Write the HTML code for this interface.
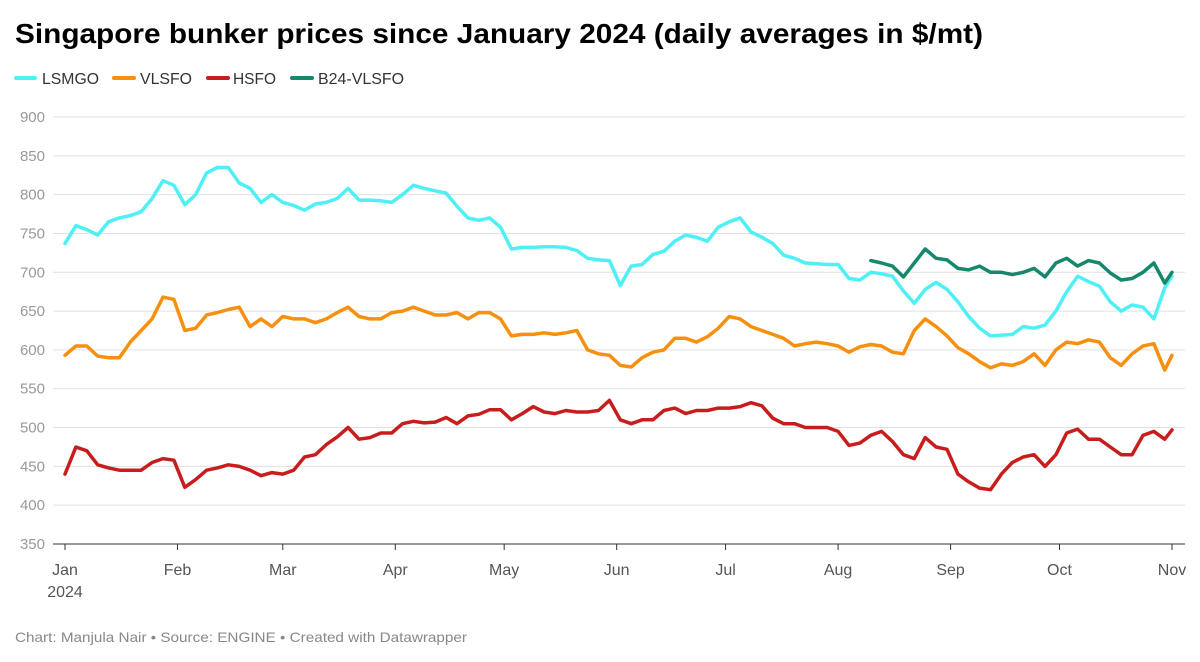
<!DOCTYPE html>
<html><head><meta charset="utf-8"><style>
html,body{margin:0;padding:0;background:#fff;}
svg{display:block;font-family:"Liberation Sans",Arial,sans-serif;}
</style></head><body>
<svg id="chart" width="1200" height="662" viewBox="0 0 1200 662">
<text x="15" y="43" font-size="28" font-weight="bold" fill="#000" textLength="968" lengthAdjust="spacingAndGlyphs">Singapore bunker prices since January 2024 (daily averages in $/mt)</text>
<g font-size="16" fill="#333">
<g><line x1="16" y1="78" x2="35" y2="78" stroke="#4ef0f5" stroke-width="4" stroke-linecap="round"/><text x="42" y="84" textLength="57" lengthAdjust="spacingAndGlyphs">LSMGO</text></g>
<g><line x1="114" y1="78" x2="134" y2="78" stroke="#f7900f" stroke-width="4" stroke-linecap="round"/><text x="140" y="84" textLength="52" lengthAdjust="spacingAndGlyphs">VLSFO</text></g>
<g><line x1="208" y1="78" x2="228" y2="78" stroke="#c71e1d" stroke-width="4" stroke-linecap="round"/><text x="233" y="84" textLength="43" lengthAdjust="spacingAndGlyphs">HSFO</text></g>
<g><line x1="292" y1="78" x2="312" y2="78" stroke="#15876b" stroke-width="4" stroke-linecap="round"/><text x="318" y="84" textLength="86" lengthAdjust="spacingAndGlyphs">B24-VLSFO</text></g>
</g>
<g id="grid"></g>
<g id="xaxis"></g>
<g id="series"></g>
<text x="15" y="642" font-size="14" fill="#888" textLength="452" lengthAdjust="spacingAndGlyphs">Chart: Manjula Nair • Source: ENGINE • Created with Datawrapper</text>
</svg>
<script>
const days = [0,3,6,9,12,15,18,21,24,27,30,33,36,39,42,45,48,51,54,57,60,63,66,69,72,75,78,81,84,87,90,93,96,99,102,105,108,111,114,117,120,123,126,129,132,135,138,141,144,147,150,153,156,159,162,165,168,171,174,177,180,183,186,189,192,195,198,201,204,207,210,213,216,219,222,225,228,231,234,237,240,243,246,249,252,255,258,261,264,267,270,273,276,279,282,285,288,291,294,297,300,303,305];
const lsmgo = [737,760,755,748,765,770,773,778,795,818,812,787,800,828,835,835,815,808,790,800,790,786,780,788,790,795,808,793,793,792,790,800,812,808,805,802,785,770,767,770,758,730,732,732,733,733,732,728,718,716,715,683,708,710,723,727,740,748,745,740,758,765,770,752,745,737,722,718,712,711,710,710,692,690,700,698,695,676,660,678,687,678,662,643,628,618,619,620,630,628,632,650,675,695,688,682,662,650,658,655,640,680,695];
const vlsfo = [593,605,605,592,590,590,610,625,640,668,665,625,628,645,648,652,655,630,640,630,643,640,640,635,640,648,655,643,640,640,648,650,655,650,645,645,648,640,648,648,640,618,620,620,622,620,622,625,600,595,593,580,578,590,597,600,615,615,610,617,628,643,640,630,625,620,615,605,608,610,608,605,597,604,607,605,597,595,625,640,630,618,603,595,585,577,582,580,585,595,580,600,610,608,613,610,590,580,595,605,608,574,593];
const hsfo = [440,475,470,452,448,445,445,445,455,460,458,423,433,445,448,452,450,445,438,442,440,445,462,465,478,488,500,485,487,493,493,505,508,506,507,513,505,515,517,523,523,510,518,527,520,518,522,520,520,522,535,510,505,510,510,522,525,518,522,522,525,525,527,532,528,512,505,505,500,500,500,495,477,480,490,495,482,465,460,487,475,472,440,430,422,420,440,455,462,465,450,465,493,498,485,485,475,465,465,490,495,485,497];
const b24Days = [222,225,228,231,234,237,240,243,246,249,252,255,258,261,264,267,270,273,276,279,282,285,288,291,294,297,300,303,305];
const b24 = [715,712,708,694,712,730,718,716,705,703,708,700,700,697,700,705,694,712,718,708,715,712,699,690,692,700,712,686,700];
const yTicks = [350,400,450,500,550,600,650,700,750,800,850,900];
const monthLabels = ["Jan","Feb","Mar","Apr","May","Jun","Jul","Aug","Sep","Oct","Nov"];
const monthDays = [0,31,60,91,121,152,182,213,244,274,305];

const NS="http://www.w3.org/2000/svg";
const X0=65,X1=1172,D1=305,Y0=544,Y1=117,V0=350,V1=900;
const xs=d=>X0+(X1-X0)*d/D1;
const ys=v=>Y0-(Y0-Y1)*(v-V0)/(V1-V0);
function mk(tag,attrs,parent){const e=document.createElementNS(NS,tag);for(const k in attrs)e.setAttribute(k,attrs[k]);parent.appendChild(e);return e;}

const grid=document.getElementById('grid');
yTicks.forEach(v=>{
  const y=ys(v);
  const l=mk('line',{x1:53,x2:1185,y1:y,y2:y,stroke:v===350?'#333':'#e0e0e0','stroke-width':1},grid);
  
  
  const t=mk('text',{x:45,y:y+5,'text-anchor':'end','font-size':15,fill:'#999'},grid);
  t.textContent=v;
  
  
});
const xa=document.getElementById('xaxis');
monthDays.forEach((d,i)=>{
  const x=xs(d);
  const tk=mk('line',{x1:x,x2:x,y1:544,y2:550,stroke:'#333','stroke-width':1},xa);
  
  
  const t=mk('text',{x:x,y:575,'text-anchor':'middle','font-size':16,fill:'#555'},xa);
  t.textContent=monthLabels[i];
  
  
});
const yr=mk('text',{x:xs(0),y:597,'text-anchor':'middle','font-size':16,fill:'#555'},xa);
yr.textContent='2024';



const sg=document.getElementById('series');
function line(dd,vals,color,name){
  const d=vals.map((v,i)=>(i?'L':'M')+xs(dd[i]).toFixed(1)+','+ys(v).toFixed(1)).join('');
  const p=mk('path',{d:d,fill:'none',stroke:color,'stroke-width':3.5,'stroke-linejoin':'round','stroke-linecap':'round'},sg);
  
  
}
line(days,lsmgo,'#4ef0f5','line-lsmgo');
line(days,vlsfo,'#f7900f','line-vlsfo');
line(days,hsfo,'#c71e1d','line-hsfo');
line(b24Days,b24,'#15876b','line-b24-vlsfo');
</script>
</body></html>
